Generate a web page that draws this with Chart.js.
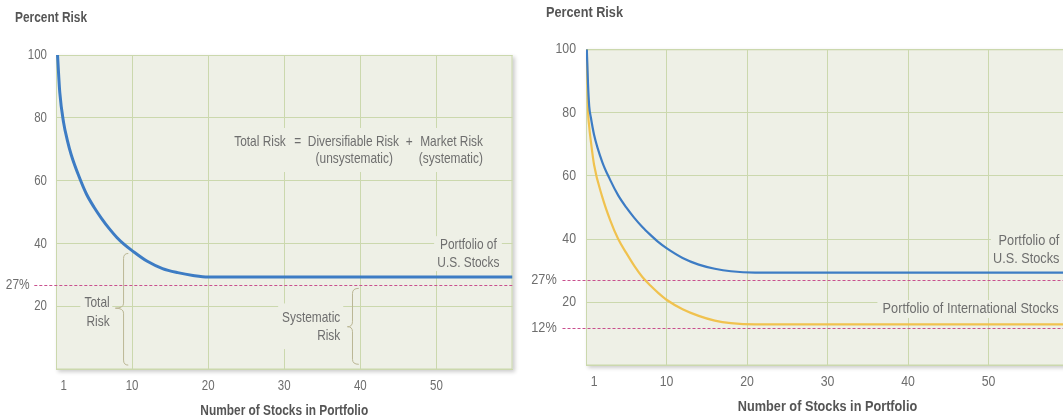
<!DOCTYPE html>
<html>
<head>
<meta charset="utf-8">
<script src="https://cdn.jsdelivr.net/npm/chart.js@4.4.1/dist/chart.umd.min.js"></script>
<style>
  html, body { margin: 0; padding: 0; background: #fff; }
  body { width: 1063px; height: 419px; overflow: hidden; position: relative; }
  #leftBox { position: absolute; left: 0; top: 0; }
  #rightBox { position: absolute; left: 530px; top: 0; }
</style>
</head>
<body>
<div id="leftBox"><canvas id="leftChart" width="530" height="419"></canvas></div>
<div id="rightBox"><canvas id="rightChart" width="545" height="419"></canvas></div>
<script>
// tick labels
const xTicks = [1, 10, 20, 30, 40, 50];
const yTicks = [20, 40, 60, 80, 100];

// left chart: U.S. stocks only
const leftStocks = [0.2, 0.5, 1, 1.5, 2, 3, 4, 5, 6, 7, 8, 9, 10, 12, 14, 16, 18, 20, 60];
const leftUsRisk = [100, 88, 78.5, 72.8, 68.3, 61.5, 55.8, 51.6, 48, 44.8, 42, 39.7, 37.8, 34.4, 32.1, 30.8, 29.9, 29.4, 29.4];

// right chart: U.S. vs international
const rightStocks = [0.1, 0.25, 0.4, 0.6, 1, 2, 3, 4, 5, 6, 7, 8, 9, 10, 12, 14, 16, 18, 21, 60];
const rightUsRisk = [100, 89, 82, 78.5, 73, 64.5, 58.7, 53.8, 50, 46.7, 43.8, 41.3, 39, 37.1, 34, 31.9, 30.6, 29.8, 29.4, 29.4];
const rightIntlRisk = [100, 81, 75.5, 71, 63.5, 53.5, 46, 40, 35.6, 31.5, 28, 25.3, 22.9, 20.8, 17.8, 15.7, 14.2, 13.4, 13, 13];

// market risk floors
const usFloor = 27;
const intlFloor = 12;

const FONT = "'Liberation Sans', Arial, sans-serif";
const plotFill = "#eef0e6";
const gridColor = "#cbd8ad";
const textColor = "#6e6e6e";
const titleColor = "#555555";
const blue = "#3d7cc4";
const yellow = "#f0c24f";
const pink = "#c9508e";
const braceColor = "#bbb795";

// Arial-like face squeezed to look like the narrow face of the original
function narrowText(ctx, text, x, y, align, size, bold, color) {
  ctx.save();
  ctx.font = (bold ? "bold " : "") + size + "px " + FONT;
  ctx.fillStyle = color;
  ctx.textBaseline = "middle";
  ctx.textAlign = align;
  ctx.translate(x, y);
  ctx.scale(0.82, 1);
  ctx.fillText(text, 0, 0);
  ctx.restore();
}

const notesPlugin = {
  id: "notes",
  beforeDraw(chart, args, o) {
    const { ctx, chartArea: a } = chart;
    ctx.save();
    ctx.shadowColor = "rgba(0,0,0,0.2)";
    ctx.shadowBlur = 4;
    ctx.shadowOffsetX = 2;
    ctx.shadowOffsetY = 2;
    ctx.fillStyle = plotFill;
    ctx.fillRect(a.left, a.top, a.width, a.height);
    ctx.restore();
    ctx.save();
    ctx.strokeStyle = gridColor;
    ctx.lineWidth = 1;
    ctx.strokeRect(a.left + 0.5, a.top + 0.5, a.width - 1, a.height - 1);
    ctx.restore();
    narrowText(ctx, "Percent Risk", o.titlePos[0], o.titlePos[1], "left", o.titleSize, true, titleColor);
  },
  beforeDatasetsDraw(chart, args, o) {
    const { ctx, chartArea: a } = chart;
    const xs = chart.scales.x, ys = chart.scales.y;
    const px = v => xs.getPixelForValue(v);
    const py = v => ys.getPixelForValue(v);
    ctx.save();
    // boxes that hide the grid behind labels
    ctx.fillStyle = plotFill;
    o.boxes.forEach(b => {
      ctx.fillRect(px(b[0]), py(b[3]), px(b[1]) - px(b[0]), py(b[2]) - py(b[3]));
    });
    // dashed floors
    ctx.strokeStyle = pink;
    ctx.lineWidth = 1;
    ctx.setLineDash([3, 2]);
    o.refs.forEach(r => {
      const y = Math.round(py(r.value)) + 0.5;
      ctx.beginPath();
      ctx.moveTo(a.left - o.lineGap, y);
      ctx.lineTo(a.right, y);
      ctx.stroke();
    });
    ctx.setLineDash([]);
    // braces
    ctx.strokeStyle = braceColor;
    ctx.lineWidth = 1;
    o.braces.forEach(b => {
      const vx = px(b.x), tx = px(b.tip), hx = px(b.hook);
      const top = py(b.top), bot = py(b.bottom), mid = py(b.mid);
      const r = 5;
      ctx.beginPath();
      ctx.moveTo(hx, top);
      ctx.quadraticCurveTo(vx, top, vx, top + r);
      ctx.lineTo(vx, mid - r);
      ctx.quadraticCurveTo(vx, mid, tx, mid);
      ctx.quadraticCurveTo(vx, mid, vx, mid + r);
      ctx.lineTo(vx, bot - r);
      ctx.quadraticCurveTo(vx, bot, hx, bot);
      ctx.stroke();
    });
    ctx.restore();
    o.refs.forEach(r => {
      narrowText(ctx, r.value + "%", a.left - o.labelGap, py(r.value), "right", o.fontSize, false, textColor);
    });
    o.texts.forEach(t => {
      narrowText(ctx, t.text, px(t.x), py(t.y), t.align, o.fontSize, false, textColor);
    });
  },
  afterDraw(chart, args, o) {
    const { ctx, chartArea: a } = chart;
    const xs = chart.scales.x, ys = chart.scales.y;
    xs.ticks.forEach(t => {
      narrowText(ctx, String(t.value), xs.getPixelForValue(t.value), o.xLabelY, "center", o.tickSize, false, textColor);
    });
    ys.ticks.forEach(t => {
      narrowText(ctx, String(t.value), a.left - o.yPad, ys.getPixelForValue(t.value), "right", o.tickSize, false, textColor);
    });
    narrowText(ctx, "Number of Stocks in Portfolio", (a.left + a.right) / 2, o.xTitleY, "center", o.titleSize, true, titleColor);
  }
};

function makeScales(xHeight) {
  return {
    x: {
      type: "linear",
      min: 0,
      max: 60,
      afterBuildTicks: sc => { sc.ticks = xTicks.map(v => ({ value: v })); },
      afterFit: sc => { sc.height = xHeight; },
      ticks: { display: false },
      grid: {
        color: c => (c.tick && c.tick.value === 1 ? "rgba(0,0,0,0)" : gridColor),
        drawTicks: false
      },
      border: { color: gridColor }
    },
    y: {
      min: 0,
      max: 100,
      afterBuildTicks: sc => { sc.ticks = yTicks.map(v => ({ value: v })); },
      afterFit: sc => { sc.width = 56; },
      ticks: { display: false },
      grid: { color: gridColor, drawTicks: false },
      border: { color: gridColor }
    }
  };
}

const lineStyle = {
  pointRadius: 0,
  cubicInterpolationMode: "monotone",
  fill: false
};

new Chart(document.getElementById("leftChart"), {
  type: "line",
  data: {
    datasets: [
      Object.assign({
        label: "Portfolio of U.S. Stocks",
        data: leftStocks.map((x, i) => ({ x: x, y: leftUsRisk[i] })),
        borderColor: blue,
        borderWidth: 3
      }, lineStyle)
    ]
  },
  options: {
    responsive: false,
    animation: false,
    layout: { padding: { top: 55, right: 17.5, bottom: 0, left: 0 } },
    scales: makeScales(49.5),
    plugins: {
      legend: { display: false },
      tooltip: { enabled: false },
      notes: {
        titleSize: 14.5,
        titlePos: [15, 18],
        tickSize: 14,
        xLabelY: 386,
        yPad: 9,
        xTitleY: 411,
        fontSize: 14.5,
        labelGap: 26.4,
        lineGap: 21.7,
        refs: [{ value: usFloor }],
        boxes: [
          [22.3, 57.1, 62.8, 76.8],
          [49.7, 58.6, 31.3, 42.4],
          [3.2, 7.4, 12.6, 24.3],
          [29.2, 37.75, 6.5, 21]
        ],
        texts: [
          { text: "Total Risk", x: 30.2, y: 72.4, align: "right" },
          { text: "=", x: 31.77, y: 72.4, align: "center" },
          { text: "Diversifiable Risk", x: 33.1, y: 72.4, align: "left" },
          { text: "+", x: 46.43, y: 72.4, align: "center" },
          { text: "Market Risk", x: 47.87, y: 72.4, align: "left" },
          { text: "(unsystematic)", x: 39.2, y: 66.8, align: "center" },
          { text: "(systematic)", x: 51.9, y: 66.8, align: "center" },
          { text: "Portfolio of", x: 54.2, y: 39.6, align: "center" },
          { text: "U.S. Stocks", x: 54.2, y: 33.9, align: "center" },
          { text: "Total", x: 7.05, y: 21.2, align: "right" },
          { text: "Risk", x: 7.05, y: 15.2, align: "right" },
          { text: "Systematic", x: 37.36, y: 16.5, align: "right" },
          { text: "Risk", x: 37.36, y: 10.65, align: "right" }
        ],
        braces: [
          { x: 8.88, tip: 7.8, hook: 9.5, top: 36.9, bottom: 1.4, mid: 19.5 },
          { x: 38.97, tip: 38.3, hook: 39.8, top: 25.8, bottom: 1.65, mid: 13.6 }
        ]
      }
    }
  },
  plugins: [notesPlugin]
});

new Chart(document.getElementById("rightChart"), {
  type: "line",
  data: {
    datasets: [
      Object.assign({
        label: "Portfolio of U.S. Stocks",
        data: rightStocks.map((x, i) => ({ x: x, y: rightUsRisk[i] })),
        borderColor: blue,
        borderWidth: 2.2
      }, lineStyle),
      Object.assign({
        label: "Portfolio of International Stocks",
        data: rightStocks.map((x, i) => ({ x: x, y: rightIntlRisk[i] })),
        borderColor: yellow,
        borderWidth: 2.2
      }, lineStyle)
    ]
  },
  options: {
    responsive: false,
    animation: false,
    layout: { padding: { top: 49.3, right: 6, bottom: 0, left: 0 } },
    scales: makeScales(53.5),
    plugins: {
      legend: { display: false },
      tooltip: { enabled: false },
      notes: {
        titleSize: 15.5,
        titlePos: [16, 13],
        tickSize: 15,
        xLabelY: 381.7,
        yPad: 10,
        xTitleY: 407,
        fontSize: 15.5,
        labelGap: 29.3,
        lineGap: 23.5,
        refs: [{ value: usFloor }, { value: intlFloor }],
        boxes: [
          [50.3, 61, 30.8, 42.5],
          [36.2, 61, 15.0, 20.7]
        ],
        texts: [
          { text: "Portfolio of", x: 58.8, y: 39.4, align: "right" },
          { text: "U.S. Stocks", x: 58.8, y: 33.7, align: "right" },
          { text: "Portfolio of International Stocks", x: 58.7, y: 17.8, align: "right" }
        ],
        braces: []
      }
    }
  },
  plugins: [notesPlugin]
});
</script>
</body>
</html>
